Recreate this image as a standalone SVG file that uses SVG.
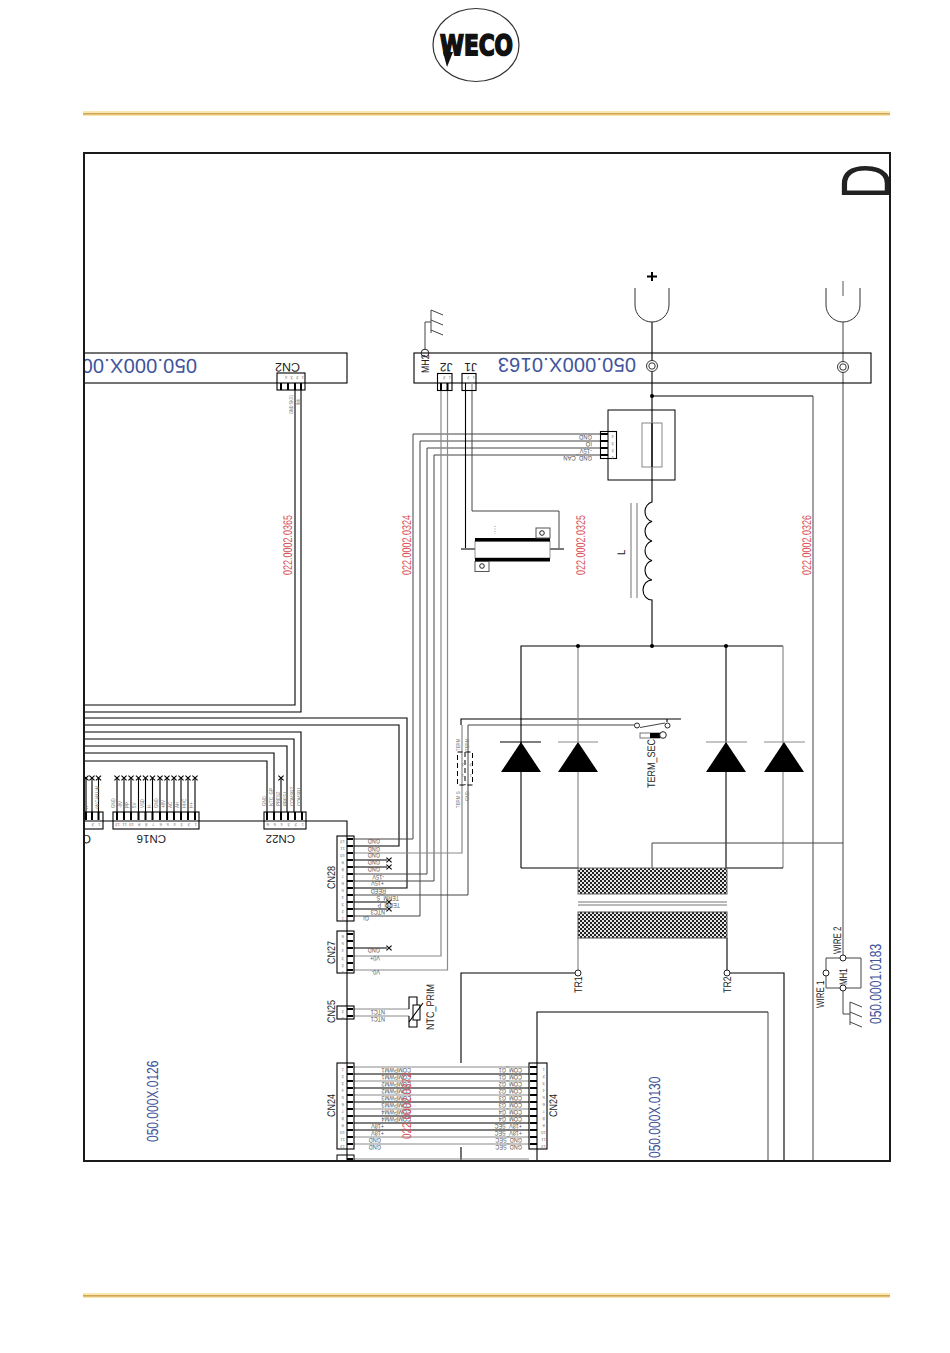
<svg xmlns="http://www.w3.org/2000/svg" width="950" height="1353" viewBox="0 0 950 1353">
<style>
text{font-family:"Liberation Sans",Arial,sans-serif;text-rendering:geometricPrecision}
.k{fill:none;stroke:#000;stroke-width:1.1}
.g{fill:none;stroke:#8a8a8a;stroke-width:1.2}
.d{fill:none;stroke:#444;stroke-width:1}
.s{font-size:6.5px;fill:#555}
.t{font-size:5.5px;fill:#777}
.n{font-size:4.5px;fill:#777}
.cn{font-size:11px;fill:#222}
.red{font-size:12.5px;fill:#d8505a}
.blu{font-size:16px;fill:#41549c}
.big{font-size:20px;fill:#41549c;letter-spacing:.2px}
.box{fill:none;stroke:#000;stroke-width:1.1}
.pin{stroke:#000;stroke-width:2;fill:none}
.o{fill:#fff;stroke:#222;stroke-width:1}
</style>
<defs>
<clipPath id="fr"><rect x="84" y="153" width="806" height="1008"/></clipPath>
<pattern id="hatch" width="4" height="4" patternUnits="userSpaceOnUse"><rect width="4" height="4" fill="#e6e6e6"/><rect width="2" height="2" fill="#222"/><rect x="2" y="2" width="2" height="2" fill="#222"/></pattern>
<path id="x" d="M-2.6-2.4 2.6 2.4M-2.6 2.4 2.6-2.4" stroke="#000" stroke-width="1.1" fill="none"/>
<g id="gnd"><path d="M0 0V-23M0-23l12 5M0-13l12 5M0-3l12 5" fill="none" stroke="#444" stroke-width="1"/></g>
<g id="scr"><circle r="5.5" fill="#fff" stroke="#333" stroke-width="1"/><circle r="3.2" fill="#fff" stroke="#333" stroke-width="1"/></g>
<path id="dio" d="M0 0 20 30H-20Z" fill="#000"/>
</defs>

<g id="header">
<rect x="83" y="111" width="807" height="5" fill="#f9e7b0"/><rect x="83" y="113" width="807" height="1.6" fill="#cfa656"/>
<rect x="83" y="1293" width="807" height="5" fill="#f9e7b0"/><rect x="83" y="1295" width="807" height="1.6" fill="#cfa656"/>
</g>
<g id="logo">
<ellipse cx="476" cy="45" rx="43" ry="36.500" fill="#fff" stroke="#333" stroke-width="1.2"/>
<text x="440" y="55" font-size="28" font-weight="bold" textLength="73" lengthAdjust="spacingAndGlyphs" fill="#111" stroke="#111" stroke-width="1.8" style="font-family:'DejaVu Sans',sans-serif">WECO</text>
<path d="M443 52H453L447 67Z" fill="#111"/>
</g>

<g clip-path="url(#fr)">
<g id="connectors">
<path class="k" d="M84 705H295V383M84 712H301V383M84 718H407V888H354M84 725H399V846H354"/>
<path class="k" d="M84 732H301V812M84 739H294V812M84 746H287V812M84 753H274V812M84 761H267V812M281 812V778"/>
<path class="k" d="M84 821H347V1161"/>
<path class="k" d="M117 812V778M124 812V778M131 812V778M138.500 812V778M145.500 812V778M152.500 812V778M160 812V778M167 812V778M174 812V778M181 812V778M188 812V778M195 812V778M86 812V778M92 812V778M98.500 812V778"/>
<path class="d" d="M600 434H413V839H354M600 441H420V916H354M600 448H427V874H354M600 455H434V881H354"/>
<path class="g" d="M441 391V956H354M447.500 391V970H354"/>
<path class="k" d="M465.500 391V548"/>
<path class="d" d="M472 391V511H559V548"/>
<path class="g" d="M462 725V853H354"/>
<path class="k" d="M461 725V719H681"/>
<path class="d" d="M468 895V725H637M468 895H354"/>
<path class="k" d="M354 860H387M354 867H387M354 902H387M354 909H387M354 948H387"/>
<path class="k" d="M667 719V722"/>
<path class="k" d="M652 322V480"/>
<path class="k" d="M652 396H813"/><path class="d" d="M813 396V1161"/>
<path class="d" d="M843 322V958"/>
<path class="k" d="M652 480V502A9 10 0 0 0 652 521.500A9 10 0 0 0 652 541A9 10 0 0 0 652 560.500A9 10 0 0 0 652 580A9 10 0 0 0 652 600V646"/>
<path class="g" d="M631 503V598M637 503V598"/>
<path class="k" d="M521 868V646H783"/><path class="g" d="M783 646V868"/><path class="g" d="M578 646V868"/><path class="k" d="M726 646V868"/>
<path class="k" d="M521 868H578M726 868H783"/>
<path class="d" d="M652 868V843H843"/>
<path class="g" d="M578 938V973"/><path class="k" d="M727 938V973"/>
<path class="k" d="M578 973H461V1063M727 973H784V1161M461 1147V1161"/>
<path class="k" d="M537 1161V1012H768"/><path class="d" d="M768 1012V1161"/>
<path class="g" d="M354 1067H529M354 1081H529M354 1095H529M354 1109H529M354 1137H529M354 1144H529M354 1159H529"/>
<path class="k" d="M354 1074H529M354 1088H529M354 1102H529M354 1116H529M354 1123H529M354 1130H529"/>
<path class="g" d="M354 1009H409M354 1016H409"/>
</g>

<g id="board-cn2">
<rect x="70" y="353" width="277" height="30" fill="none" stroke="#000" stroke-width="1.1"/>
<text class="big" transform="translate(197 359) rotate(180)">050.000X.00</text>
<text class="cn" transform="matrix(-1 0 0 -1 300 363)" style="font-size:12.500px">CN2</text>
<rect class="box" x="277" y="373" width="28" height="17"/>
<path class="pin" d="M281 383V390M288 383V390M295 383V390M301 383V390"/>
<text class="n" transform="matrix(-1 0 0 -1 304 376)" style="letter-spacing:3px">1234</text>
<text class="t" transform="matrix(0 -.7 1 0 293 414)">GND SK01</text>
<text class="t" transform="matrix(0 -.7 1 0 300 405)">INV</text>
</g>

<g id="board-0163">
<rect x="414" y="353" width="457" height="30" fill="none" stroke="#000" stroke-width="1.1"/>
<text class="big" transform="translate(636 358) rotate(180)">050.000X.0163</text>
<use href="#scr" x="652" y="366"/><use href="#scr" x="843" y="367"/>
<g id="MH2"><path class="d" d="M425 349V322H431"/><use href="#gnd" x="431" y="333"/><circle cx="425" cy="353" r="3.800" fill="none" stroke="#222"/>
<text class="cn" transform="matrix(0 -.8 1 0 429 373)">MH2</text></g>
<text class="cn" transform="matrix(-1 0 0 -1 452.500 363)" style="font-size:12px">J2</text>
<text class="cn" transform="matrix(-1 0 0 -1 477 363)" style="font-size:12px">J1</text>
<rect class="box" x="437.500" y="373.500" width="14.500" height="17"/><rect class="box" x="462" y="373.500" width="14" height="17"/>
<path class="pin" d="M441 383V390M447.500 383V390"/>
<path class="k" d="M465.500 383V390"/><path class="g" d="M472 383V390"/>
<text class="n" transform="matrix(-1 0 0 -1 451 376)" style="letter-spacing:3px">12</text>
<text class="n" transform="matrix(-1 0 0 -1 475 376)" style="letter-spacing:3px">12</text>
</g>

<g id="terminal-plus"><path d="M635 288V305A17 17 0 0 0 669 305V288" fill="none" stroke="#333"/><path d="M647 276.500H657M652 272V281" stroke="#000" stroke-width="2" fill="none"/></g>
<g id="terminal-minus"><path d="M826 288V305A17 17 0 0 0 860 305V288" fill="none" stroke="#333"/><path d="M843 281V296" stroke="#555"/></g>

<g id="current-sensor">
<rect x="608" y="410" width="67" height="70" fill="none" stroke="#000" stroke-width="1"/>
<rect x="642" y="423" width="20" height="44" fill="none" stroke="#888"/>
<path class="k" d="M652 423V467"/>
<rect class="box" x="600.500" y="431.500" width="16" height="27"/>
<path class="pin" d="M601 434H608M601 441H608M601 448H608M601 455H608"/>
<text class="s" transform="matrix(-.9 0 0 -1 592 435)">GND</text>
<text class="s" transform="matrix(-.9 0 0 -1 592 442)">IO</text>
<text class="s" transform="matrix(-.9 0 0 -1 592 449)">-15V</text>
<text class="s" transform="matrix(-.9 0 0 -1 592 456)">GND_CAN</text>
<text class="n" transform="matrix(-1 0 0 -1 614 435)">4</text><text class="n" transform="matrix(-1 0 0 -1 614 442)">3</text><text class="n" transform="matrix(-1 0 0 -1 614 449)">2</text><text class="n" transform="matrix(-1 0 0 -1 614 456)">1</text>
</g>

<g id="resistor">
<rect x="475" y="541" width="75" height="17" fill="#fff" stroke="#777" stroke-width=".8"/>
<rect x="475" y="538" width="75" height="3.500" fill="#000"/><rect x="475" y="558" width="75" height="3.500" fill="#000"/>
<rect x="536" y="528" width="14" height="10" fill="#fff" stroke="#555"/><circle class="o" cx="542" cy="533" r="2.300"/>
<rect x="475" y="561.500" width="14" height="10" fill="#fff" stroke="#555"/><circle class="o" cx="482" cy="566" r="2.300"/>
<path d="M461 549H475M550 549H564" stroke="#777" stroke-width="2"/>
<path d="M495 526V534" stroke="#999" stroke-dasharray="1 1.500"/>
</g>

<text class="red" transform="matrix(0 -.72 1 0 292 575)">022.0002.0365</text>
<text class="red" transform="matrix(0 -.72 1 0 411 575)">022.0002.0324</text>
<text class="red" transform="matrix(0 -.72 1 0 585 575)">022.0002.0325</text>
<text class="red" transform="matrix(0 -.72 1 0 811 575)">022.0002.0326</text>
<text class="cn" transform="matrix(0 -.85 1 0 625 555)">L</text>

<g id="diodes">
<use href="#dio" x="521" y="742"/><use href="#dio" x="578" y="742"/><use href="#dio" x="726" y="742"/><use href="#dio" x="784" y="742"/>
<path class="k" d="M500 742H541"/><path class="g" d="M558 742H598M706 742H747M764 742H805"/>
</g>

<g id="term-sec">
<circle class="o" cx="637" cy="725.500" r="2.500"/><circle class="o" cx="667.500" cy="725.500" r="2.500"/>
<path class="d" d="M640 727.500 665 723"/>
<rect x="640" y="733" width="20" height="5" fill="#fff" stroke="#555" stroke-width=".8"/><rect x="650" y="733" width="10" height="5" fill="#000"/>
<circle class="o" cx="663" cy="735" r="3.300"/>
<text class="cn" transform="matrix(0 -.82 1 0 655 788)">TERM_SEC</text>
</g>

<g id="term-connector">
<rect x="457.500" y="752" width="15" height="33" fill="none" stroke="#000" stroke-dasharray="5 3"/>
<path d="M465 752V785" stroke="#000" stroke-dasharray="5 3"/>
<text class="t" transform="matrix(0 -.8 1 0 460 751)">TERM</text>
<text class="t" transform="matrix(0 -.8 1 0 469 751)">TERM</text>
<text class="t" transform="matrix(0 -.8 1 0 460 808)">TERM S</text>
<text class="t" transform="matrix(0 -.8 1 0 469 801)">GND</text>
<text class="n" transform="matrix(-1 0 0 -1 464 763)">2</text><text class="n" transform="matrix(-1 0 0 -1 464 774)">1</text>
<text class="n" transform="matrix(-1 0 0 -1 472 763)">2</text><text class="n" transform="matrix(-1 0 0 -1 472 774)">1</text>
</g>

<g id="transformer">
<rect x="578" y="868" width="149" height="26" fill="url(#hatch)" stroke="#666"/>
<path d="M578 902H727M578 905H727" stroke="#777" stroke-width="1"/>
<rect x="578" y="912" width="149" height="26" fill="url(#hatch)" stroke="#555"/>
<circle class="o" cx="578" cy="973" r="3"/><circle class="o" cx="727" cy="973" r="3"/>
<text class="cn" transform="matrix(0 -.8 1 0 582 993)">TR1</text>
<text class="cn" transform="matrix(0 -.8 1 0 731 993)">TR2</text>
</g>

<g id="MH1">
<path class="d" d="M826 958H861V988H826ZM843 988V1014H850"/>
<circle class="o" cx="843" cy="958" r="3"/><circle class="o" cx="826" cy="973" r="3"/><circle class="o" cx="843" cy="988" r="3"/>
<use href="#gnd" x="850" y="1025"/>
<text class="cn" transform="matrix(0 -.72 1 0 847 985)">MH1</text>
<text class="cn" transform="matrix(0 -.72 1 0 841 954)">WIRE 2</text>
<text class="cn" transform="matrix(0 -.72 1 0 824 1008)">WIRE 1</text>
</g>

<text class="blu" transform="matrix(0 -.75 1 0 881 1024)">050.0001.0183</text>
<text class="blu" transform="matrix(0 -.75 1 0 158 1142)">050.000X.0126</text>
<text class="blu" transform="matrix(0 -.75 1 0 660 1158)">050.000X.0130</text>
<text transform="matrix(0 -.7 1 0 890 199)" font-size="70" fill="#222">D</text>

<g id="CN-partial">
<rect class="box" x="70" y="812" width="33" height="17"/>
<path class="pin" d="M86 812V820M92 812V820M98.500 812V820"/>
<text class="cn" transform="matrix(-1 0 0 -1 91 835)" style="font-size:12px">C</text>
<text class="n" transform="matrix(-1 0 0 -1 100.500 823)">1</text><text class="n" transform="matrix(-1 0 0 -1 94 823)">2</text>
<text class="t" transform="matrix(0 -.75 1 0 99 810)">+W CAN LIM</text>
<text class="t" transform="matrix(0 -.75 1 0 88 810)">VP</text>
</g>

<g id="CN16">
<rect class="box" x="113" y="812" width="86" height="17"/>
<path class="pin" d="M117 812V820M124 812V820M131 812V820M138.500 812V820M145.500 812V820M152.500 812V820M160 812V820M167 812V820M174 812V820M181 812V820M188 812V820M195 812V820"/>
<text class="cn" transform="matrix(-1 0 0 -1 166 835)" style="font-size:11.500px">CN16</text>
<text class="n" transform="matrix(-1 0 0 -1 197 823)">1</text><text class="n" transform="matrix(-1 0 0 -1 190 823)">2</text><text class="n" transform="matrix(-1 0 0 -1 183 823)">3</text><text class="n" transform="matrix(-1 0 0 -1 176 823)">4</text><text class="n" transform="matrix(-1 0 0 -1 169 823)">5</text><text class="n" transform="matrix(-1 0 0 -1 162 823)">6</text><text class="n" transform="matrix(-1 0 0 -1 154.500 823)">7</text><text class="n" transform="matrix(-1 0 0 -1 147.500 823)">8</text><text class="n" transform="matrix(-1 0 0 -1 140.500 823)">9</text><text class="n" transform="matrix(-1 0 0 -1 134 823)">10</text><text class="n" transform="matrix(-1 0 0 -1 127 823)">11</text><text class="n" transform="matrix(-1 0 0 -1 120 823)">12</text>
<text class="t" transform="matrix(0 -.8 1 0 115 808)">GND</text>
<text class="t" transform="matrix(0 -.8 1 0 122 808)">-8V</text>
<text class="t" transform="matrix(0 -.8 1 0 129 808)">PP</text>
<text class="t" transform="matrix(0 -.8 1 0 136 808)">5V</text>
<text class="t" transform="matrix(0 -.8 1 0 143.500 808)">VSD</text>
<text class="t" transform="matrix(0 -.8 1 0 150.500 808)">H-</text>
<text class="t" transform="matrix(0 -.8 1 0 158 808)">GND</text>
<text class="t" transform="matrix(0 -.8 1 0 165 808)">+8V</text>
<text class="t" transform="matrix(0 -.8 1 0 172 808)">AC</text>
<text class="t" transform="matrix(0 -.8 1 0 179 808)">AH</text>
<text class="t" transform="matrix(0 -.8 1 0 186 808)">HHC</text>
<text class="t" transform="matrix(0 -.8 1 0 193 808)">H+</text>
</g>

<g id="CN22">
<rect class="box" x="264" y="812" width="42" height="17"/>
<path class="pin" d="M267 812V820M274 812V820M281 812V820M288 812V820M295 812V820M302 812V820"/>
<text class="cn" transform="matrix(-1 0 0 -1 295 835)" style="font-size:11.500px">CN22</text>
<text class="n" transform="matrix(-1 0 0 -1 304 823)">1</text><text class="n" transform="matrix(-1 0 0 -1 297 823)">2</text><text class="n" transform="matrix(-1 0 0 -1 290 823)">3</text><text class="n" transform="matrix(-1 0 0 -1 283 823)">4</text><text class="n" transform="matrix(-1 0 0 -1 276 823)">5</text><text class="n" transform="matrix(-1 0 0 -1 269 823)">6</text>
<text class="t" transform="matrix(0 -.8 1 0 265.500 806)">GND</text>
<text class="t" transform="matrix(0 -.8 1 0 272.500 806)">NTC_GP</text>
<text class="t" transform="matrix(0 -.8 1 0 279.500 806)">PRES2</text>
<text class="t" transform="matrix(0 -.8 1 0 286.500 806)">PRES1</text>
<text class="t" transform="matrix(0 -.8 1 0 293.500 806)">COMSR2</text>
<text class="t" transform="matrix(0 -.8 1 0 300.500 806)">COMSR1</text>
</g>
<g id="x-marks">
<use href="#x" x="86" y="778"/><use href="#x" x="92" y="778"/><use href="#x" x="98.500" y="778"/>
<use href="#x" x="117" y="778"/><use href="#x" x="124" y="778"/><use href="#x" x="131" y="778"/><use href="#x" x="138.500" y="778"/><use href="#x" x="145.500" y="778"/><use href="#x" x="152.500" y="778"/><use href="#x" x="160" y="778"/><use href="#x" x="167" y="778"/><use href="#x" x="174" y="778"/><use href="#x" x="181" y="778"/><use href="#x" x="188" y="778"/><use href="#x" x="195" y="778"/><use href="#x" x="281" y="778"/>
<use href="#x" x="389" y="860"/><use href="#x" x="389" y="867"/><use href="#x" x="389" y="902"/><use href="#x" x="389" y="909"/><use href="#x" x="389" y="948"/>
</g>

<g id="CN28">
<rect x="337" y="836" width="17" height="85" fill="none" stroke="#000" stroke-width="1.1"/>
<path class="pin" d="M347 839H353M347 846H353M347 853H353M347 860H353M347 867H353M347 874H353M347 881H353M347 888H353M347 895H353M347 902H353M347 909H353M347 916H353"/>
<text class="cn" transform="matrix(0 -.82 1 0 335 889)">CN28</text>
<text class="s" transform="matrix(-.85 0 0 -1 380 839)">GND</text><text class="s" transform="matrix(-.85 0 0 -1 380 847)">GND</text><text class="s" transform="matrix(-.85 0 0 -1 380 853)">GND</text><text class="s" transform="matrix(-.85 0 0 -1 380 860)">GND</text><text class="s" transform="matrix(-.85 0 0 -1 380 867)">GND</text><text class="s" transform="matrix(-.85 0 0 -1 384 875)">-15V</text><text class="s" transform="matrix(-.85 0 0 -1 384 881)">+15V</text><text class="s" transform="matrix(-.85 0 0 -1 386 889)">REED</text><text class="s" transform="matrix(-.85 0 0 -1 399 896)">TERM_S</text><text class="s" transform="matrix(-.85 0 0 -1 400 903)">TERM_P</text><text class="s" transform="matrix(-.85 0 0 -1 385 910)">NTC3</text><text class="s" transform="matrix(-.85 0 0 -1 369 916)">GI</text>
<text class="n" transform="matrix(-1 0 0 -1 345 840)">12</text><text class="n" transform="matrix(-1 0 0 -1 345 847)">11</text><text class="n" transform="matrix(-1 0 0 -1 345 854)">10</text><text class="n" transform="matrix(-1 0 0 -1 344 861)">9</text><text class="n" transform="matrix(-1 0 0 -1 344 868)">8</text><text class="n" transform="matrix(-1 0 0 -1 344 875)">7</text><text class="n" transform="matrix(-1 0 0 -1 344 882)">6</text><text class="n" transform="matrix(-1 0 0 -1 344 889)">5</text><text class="n" transform="matrix(-1 0 0 -1 344 896)">4</text><text class="n" transform="matrix(-1 0 0 -1 344 903)">3</text><text class="n" transform="matrix(-1 0 0 -1 344 910)">2</text><text class="n" transform="matrix(-1 0 0 -1 344 917)">1</text>
</g>

<g id="CN27">
<rect x="337" y="931" width="17" height="42" fill="none" stroke="#000" stroke-width="1.1"/>
<path class="pin" d="M347 934H353M347 941H353M347 948H353M347 956H353M347 963H353M347 970H353"/>
<text class="cn" transform="matrix(0 -.82 1 0 335 964)">CN27</text>
<text class="s" transform="matrix(-.85 0 0 -1 380 948)">GND</text><text class="s" transform="matrix(-.85 0 0 -1 380 956)">V0+</text><text class="s" transform="matrix(-.85 0 0 -1 380 970)">V0-</text>
<text class="n" transform="matrix(-1 0 0 -1 344 935)">6</text><text class="n" transform="matrix(-1 0 0 -1 344 942)">5</text><text class="n" transform="matrix(-1 0 0 -1 344 949)">4</text><text class="n" transform="matrix(-1 0 0 -1 344 957)">3</text><text class="n" transform="matrix(-1 0 0 -1 344 964)">2</text><text class="n" transform="matrix(-1 0 0 -1 344 971)">1</text>
</g>

<g id="CN25">
<rect x="337" y="1006" width="17" height="13" fill="none" stroke="#000" stroke-width="1.1"/>
<path class="pin" d="M347 1009H353M347 1016H353"/>
<text class="cn" transform="matrix(0 -.82 1 0 335 1023)">CN25</text>
<text class="s" transform="matrix(-.85 0 0 -1 385 1010)">NTC1</text><text class="s" transform="matrix(-.85 0 0 -1 385 1017)">NTC1</text>
<text class="n" transform="matrix(-1 0 0 -1 344 1010)">2</text><text class="n" transform="matrix(-1 0 0 -1 344 1017)">1</text>
</g>

<g id="NTC_PRIM">
<path class="k" d="M409 1009V997H417V1005M409 1016V1027H417V1020"/>
<rect x="413" y="1005" width="7" height="15" fill="#fff" stroke="#000"/>
<path class="k" d="M409 1022 423 1003"/>
<text class="cn" transform="matrix(0 -.82 1 0 434 1030)">NTC_PRIM</text>
</g>

<g id="CN24-left">
<rect x="337" y="1063" width="17" height="86" fill="none" stroke="#000" stroke-width="1.1"/>
<path class="pin" d="M347 1067H353M347 1074H353M347 1081H353M347 1088H353M347 1095H353M347 1102H353M347 1109H353M347 1116H353M347 1123H353M347 1130H353M347 1137H353M347 1144H353"/>
<text class="cn" transform="matrix(0 -.82 1 0 335 1117)">CN24</text>
<text class="s" transform="matrix(-.85 0 0 -1 411 1068)">COMPWM1</text><text class="s" transform="matrix(-.85 0 0 -1 411 1075)">COMPWM1</text><text class="s" transform="matrix(-.85 0 0 -1 411 1082)">COMPWM2</text><text class="s" transform="matrix(-.85 0 0 -1 411 1089)">COMPWM2</text><text class="s" transform="matrix(-.85 0 0 -1 411 1096)">COMPWM3</text><text class="s" transform="matrix(-.85 0 0 -1 411 1103)">COMPWM3</text><text class="s" transform="matrix(-.85 0 0 -1 411 1110)">COMPWM4</text><text class="s" transform="matrix(-.85 0 0 -1 411 1117)">COMPWM4</text>
<text class="s" transform="matrix(-.85 0 0 -1 384 1124)">+18V</text><text class="s" transform="matrix(-.85 0 0 -1 384 1131)">+18V</text><text class="s" transform="matrix(-.85 0 0 -1 381 1138)">GND</text><text class="s" transform="matrix(-.85 0 0 -1 381 1145)">GND</text>
<text class="n" transform="matrix(-1 0 0 -1 344 1068)">1</text><text class="n" transform="matrix(-1 0 0 -1 344 1075)">2</text><text class="n" transform="matrix(-1 0 0 -1 344 1082)">3</text><text class="n" transform="matrix(-1 0 0 -1 344 1089)">4</text><text class="n" transform="matrix(-1 0 0 -1 344 1096)">5</text><text class="n" transform="matrix(-1 0 0 -1 344 1103)">6</text><text class="n" transform="matrix(-1 0 0 -1 344 1110)">7</text><text class="n" transform="matrix(-1 0 0 -1 344 1117)">8</text><text class="n" transform="matrix(-1 0 0 -1 344 1124)">9</text><text class="n" transform="matrix(-1 0 0 -1 345 1131)">10</text><text class="n" transform="matrix(-1 0 0 -1 345 1138)">11</text><text class="n" transform="matrix(-1 0 0 -1 345 1145)">12</text>
</g>

<g id="CN24-right">
<rect x="529" y="1063" width="18" height="86" fill="none" stroke="#000" stroke-width="1.1"/>
<path class="pin" d="M530 1067H537M530 1074H537M530 1081H537M530 1088H537M530 1095H537M530 1102H537M530 1109H537M530 1116H537M530 1123H537M530 1130H537M530 1137H537M530 1144H537"/>
<text class="cn" transform="matrix(0 -.82 1 0 557 1117)">CN24</text>
<text class="s" transform="matrix(-.85 0 0 -1 522 1068)">COM_G1</text><text class="s" transform="matrix(-.85 0 0 -1 522 1075)">COM_G1</text><text class="s" transform="matrix(-.85 0 0 -1 522 1082)">COM_G2</text><text class="s" transform="matrix(-.85 0 0 -1 522 1089)">COM_G2</text><text class="s" transform="matrix(-.85 0 0 -1 522 1096)">COM_G3</text><text class="s" transform="matrix(-.85 0 0 -1 522 1103)">COM_G3</text><text class="s" transform="matrix(-.85 0 0 -1 522 1110)">COM_G4</text><text class="s" transform="matrix(-.85 0 0 -1 522 1117)">COM_G4</text>
<text class="s" transform="matrix(-.85 0 0 -1 522 1124)">+18V_SEC</text><text class="s" transform="matrix(-.85 0 0 -1 522 1131)">+18V_SEC</text><text class="s" transform="matrix(-.85 0 0 -1 522 1138)">GND_SEC</text><text class="s" transform="matrix(-.85 0 0 -1 522 1145)">GND_SEC</text>
<text class="n" transform="matrix(-1 0 0 -1 545 1068)">1</text><text class="n" transform="matrix(-1 0 0 -1 545 1075)">2</text><text class="n" transform="matrix(-1 0 0 -1 545 1082)">3</text><text class="n" transform="matrix(-1 0 0 -1 545 1089)">4</text><text class="n" transform="matrix(-1 0 0 -1 545 1096)">5</text><text class="n" transform="matrix(-1 0 0 -1 545 1103)">6</text><text class="n" transform="matrix(-1 0 0 -1 545 1110)">7</text><text class="n" transform="matrix(-1 0 0 -1 545 1117)">8</text><text class="n" transform="matrix(-1 0 0 -1 545 1124)">9</text><text class="n" transform="matrix(-1 0 0 -1 546 1131)">10</text><text class="n" transform="matrix(-1 0 0 -1 546 1138)">11</text><text class="n" transform="matrix(-1 0 0 -1 546 1145)">12</text>
</g>
<text class="red" transform="matrix(0 -.8 1 0 411 1139)">022.0002.0372</text>

<g id="CN-bottom"><rect x="337" y="1155" width="17" height="14" fill="none" stroke="#000"/><path class="pin" d="M347 1159H353"/></g>

<g id="junctions" fill="#000">
<circle cx="652" cy="396" r="2"/><circle cx="652" cy="646" r="2"/><circle cx="578" cy="646" r="2"/><circle cx="726" cy="646" r="2"/>
</g>
</g>
<rect id="frame" x="84" y="153" width="806" height="1008" fill="none" stroke="#1a1a1a" stroke-width="2"/>
</svg>
